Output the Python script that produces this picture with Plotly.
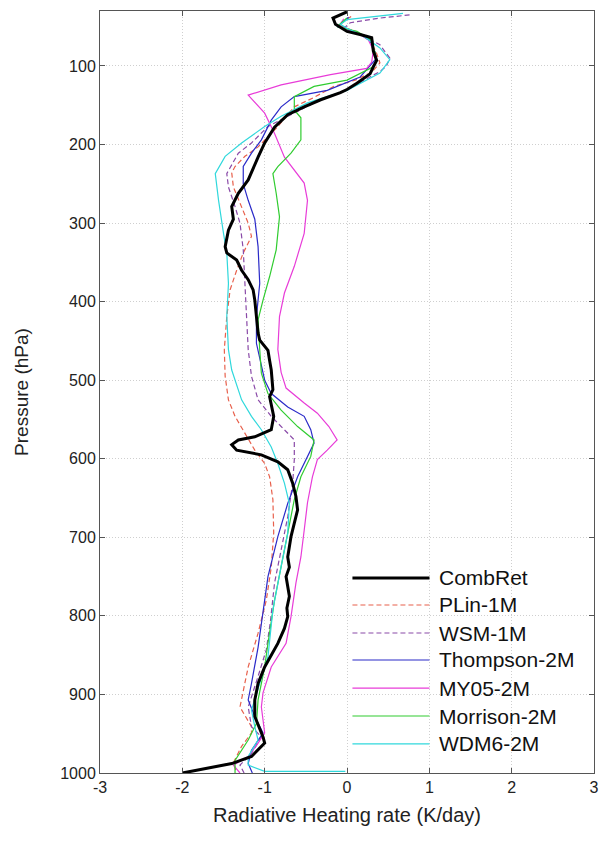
import plotly.graph_objects as go

# Radiative heating-rate profiles (K/day) against pressure (hPa)
comb_x = [0.0, -0.17, -0.14, 0.0, 0.16, 0.30, 0.32, 0.36, 0.32, 0.28, 0.12, 0.0, -0.08, -0.32, -0.52,
          -0.72, -0.88, -1.0, -1.08, -1.14, -1.2, -1.32, -1.40, -1.38, -1.44, -1.48, -1.46, -1.34, -1.28,
          -1.2, -1.14, -1.12, -1.10, -1.08, -1.06, -0.96, -0.94, -0.92, -0.90, -0.94, -0.89, -0.92, -1.12,
          -1.32, -1.40, -1.34, -1.04, -0.84, -0.72, -0.66, -0.62, -0.60, -0.64, -0.68, -0.72, -0.70,
          -0.74, -0.70, -0.73, -0.72, -0.76, -0.84, -1.0, -1.08, -1.12, -1.12, -1.02, -1.0, -1.16, -1.40, -2.0]
comb_p = [31, 39, 47, 56, 60, 64, 81, 93, 101, 110, 122, 130, 134, 143, 152,
          162, 178, 198, 216, 230, 245, 262, 279, 295, 309, 330, 338, 347, 360,
          372, 385, 398, 423, 440, 449, 462, 475, 487, 512, 521, 546, 563, 572,
          576, 582, 589, 595, 604, 614, 631, 648, 665, 682, 699, 725, 738,
          750, 775, 790, 801, 816, 835, 865, 886, 907, 928, 954, 962, 979, 988, 1000]

plin_x = [0.05, -0.10, 0.10, 0.28, 0.36, 0.40, 0.30, 0.10, -0.16, -0.40, -0.64, -0.84, -1.08, -1.24,
          -1.36, -1.40, -1.38, -1.28, -1.20, -1.16, -1.26, -1.34, -1.42, -1.46, -1.49, -1.48, -1.44,
          -1.36, -1.24, -1.12, -1.0, -0.94, -0.90, -0.89, -0.92, -0.98, -1.08, -1.2, -1.30, -1.16,
          -1.16, -1.28, -1.38, -1.34]
plin_p = [37, 48, 56, 66, 84, 96, 108, 118, 126, 140, 152, 177, 203, 215,
          228, 236, 254, 279, 300, 317, 338, 360, 385, 419, 461, 495, 525,
          546, 568, 589, 606, 623, 652, 694, 738, 780, 822, 865, 916, 941,
          949, 966, 987, 1000]

wsm_x = [0.76, 0.40, 0.04, -0.04, 0.16, 0.40, 0.52, 0.48, 0.40, 0.0, -0.40, -0.72, -0.96, -1.16,
         -1.32, -1.46, -1.44, -1.36, -1.30, -1.26, -1.24, -1.22, -1.2, -1.16, -1.08, -0.92, -0.76,
         -0.64, -0.64, -0.66, -0.72, -0.80, -0.88, -0.93, -0.98, -1.08, -1.2, -1.16, -1.04, -1.16,
         -1.30, -1.25]
wsm_p = [35, 39, 45, 52, 60, 73, 90, 100, 107, 130, 147, 164, 177, 198,
         211, 237, 254, 279, 300, 334, 377, 419, 461, 495, 525, 546, 563,
         576, 601, 631, 674, 716, 758, 807, 843, 877, 916, 941, 954, 975,
         990, 1000]

thom_x = [0.02, -0.12, 0.12, 0.28, 0.34, 0.36, 0.16, -0.24, -0.64, -0.80, -0.92, -1.04, -1.16, -1.26,
          -1.26, -1.2, -1.12, -1.08, -1.06, -1.10, -1.10, -1.04, -1.0, -0.92, -0.72, -0.52, -0.44,
          -0.40, -0.48, -0.60, -0.72, -0.84, -0.96, -1.02, -1.08, -1.16, -1.2, -1.12, -1.02, -1.16,
          -1.2, -1.15]
thom_p = [38, 50, 57, 68, 82, 90, 114, 131, 139, 152, 169, 194, 211, 228,
          250, 271, 295, 330, 377, 419, 453, 483, 500, 517, 534, 546, 563,
          580, 597, 623, 657, 699, 750, 795, 840, 886, 907, 928, 949, 971,
          988, 1000]

my05_x = [-0.04, -0.10, 0.12, 0.26, 0.32, 0.30, 0.24, -0.2, -0.8, -1.2, -1.0, -0.88, -0.76, -0.52,
          -0.48, -0.52, -0.64, -0.76, -0.82, -0.84, -0.80, -0.74, -0.52, -0.36, -0.22, -0.12, -0.24,
          -0.36, -0.42, -0.48, -0.52, -0.56, -0.62, -0.68, -0.74, -0.92, -1.02, -1.04, -1.0, -1.08,
          -1.2, -1.38, -1.30]
my05_p = [40, 50, 57, 67, 80, 95, 103, 111, 124, 137, 160, 186, 216, 249,
          271, 313, 355, 389, 419, 461, 490, 510, 529, 542, 559, 576, 589,
          601, 623, 656, 691, 725, 758, 801, 835, 865, 898, 916, 949, 962,
          979, 990, 1000]

morr_x = [0.0, -0.12, 0.12, 0.28, 0.34, 0.36, 0.32, 0.0, -0.4, -0.64, -0.64, -0.56, -0.56, -0.68,
          -0.84, -0.90, -0.86, -0.82, -0.86, -0.94, -1.02, -1.08, -1.06, -1.04, -0.96, -0.80, -0.60,
          -0.40, -0.44, -0.56, -0.64, -0.72, -0.80, -0.88, -0.96, -1.0, -1.08, -1.10, -1.2, -1.36,
          -1.36]
morr_p = [39, 50, 56, 66, 82, 92, 101, 118, 126, 139, 156, 166, 194, 211,
          228, 237, 262, 292, 334, 368, 398, 423, 461, 491, 517, 538, 559,
          576, 597, 623, 652, 695, 737, 780, 835, 865, 907, 937, 958, 984,
          1000]

wdm6_x = [0.68, 0.32, 0.0, -0.08, 0.0, 0.2, 0.4, 0.52, 0.40, 0.0, -0.48, -0.80, -1.0, -1.28,
          -1.48, -1.60, -1.56, -1.50, -1.46, -1.44, -1.46, -1.44, -1.40, -1.28, -1.16, -1.04, -0.92,
          -0.84, -0.76, -0.70, -0.72, -0.80, -0.90, -0.96, -1.08, -1.16, -1.12, -1.08, -1.2, -1.2,
          -1.0, -0.02]
wdm6_p = [33, 37, 41, 47, 52, 62, 77, 92, 109, 131, 147, 164, 177, 198,
          215, 237, 271, 313, 338, 377, 419, 461, 487, 525, 546, 563, 585,
          606, 631, 657, 695, 737, 792, 852, 894, 920, 941, 958, 979, 990,
          998, 998]

names = ["CombRet", "PLin-1M", "WSM-1M", "Thompson-2M", "MY05-2M", "Morrison-2M", "WDM6-2M"]
xs = [comb_x, plin_x, wsm_x, thom_x, my05_x, morr_x, wdm6_x]
ps = [comb_p, plin_p, wsm_p, thom_p, my05_p, morr_p, wdm6_p]
colors = ["#000000", "#e8604c", "#8a4aa8", "#2a2ac8", "#e83cd8", "#30cc30", "#30d8dc"]
widths = [3.0, 1.2, 1.2, 1.2, 1.2, 1.2, 1.2]
dashes = ["solid", "5px,3px", "5px,3px", "solid", "solid", "solid", "solid"]

pressure_ticks = [100, 200, 300, 400, 500, 600, 700, 800, 900, 1000]
heating_ticks = [-3, -2, -1, 0, 1, 2, 3]

FONT = "Liberation Sans, Arial, sans-serif"

fig = go.Figure()
# draw the model curves first, the retrieval on top
order = [1, 2, 3, 4, 5, 6, 0]
for i in order:
    fig.add_trace(go.Scatter(
        x=xs[i], y=ps[i], mode="lines", name=names[i], showlegend=False,
        line=dict(color=colors[i], width=widths[i], dash=dashes[i]),
    ))

# legend drawn as line samples with labels in the lower-right corner
leg_y = [0.256, 0.2205, 0.1837, 0.1483, 0.1115, 0.0748, 0.0381]
shapes = []
annotations = []
for i, name in enumerate(names):
    shapes.append(dict(type="line", xref="paper", yref="paper",
                       x0=0.511, x1=0.667, y0=leg_y[i], y1=leg_y[i],
                       line=dict(color=colors[i], width=widths[i], dash=dashes[i])))
    annotations.append(dict(text=name, xref="paper", yref="paper", x=0.683, y=leg_y[i],
                            xanchor="left", yanchor="middle", showarrow=False,
                            font=dict(family=FONT, size=21, color="#111")))

fig.update_layout(
    width=608, height=842,
    margin=dict(l=100, r=9, t=11, b=69),
    paper_bgcolor="white", plot_bgcolor="white",
    font=dict(family=FONT, color="#222"),
    shapes=shapes, annotations=annotations,
    xaxis=dict(
        range=[-3, 3], tickvals=heating_ticks,
        ticktext=[str(v) for v in heating_ticks],
        showline=True, linecolor="#555", linewidth=1, mirror="ticks",
        ticks="inside", ticklen=5, tickcolor="#555",
        showgrid=True, gridcolor="#cfcfcf", griddash="1px,2px", gridwidth=1,
        zeroline=False, tickfont=dict(size=16, family=FONT, color="#222"),
        title=dict(text="Radiative Heating rate (K/day)", standoff=12,
                   font=dict(size=20, family=FONT, color="#222")),
    ),
    yaxis=dict(
        range=[1000, 30], tickvals=pressure_ticks,
        showline=True, linecolor="#555", linewidth=1, mirror="ticks",
        ticks="inside", ticklen=5, tickcolor="#555",
        showgrid=True, gridcolor="#cfcfcf", griddash="1px,2px", gridwidth=1,
        zeroline=False, tickfont=dict(size=16, family=FONT, color="#222"),
        title=dict(text="Pressure (hPa)", standoff=26,
                   font=dict(size=19, family=FONT, color="#222")),
    ),
)

fig.write_html("out.html")
